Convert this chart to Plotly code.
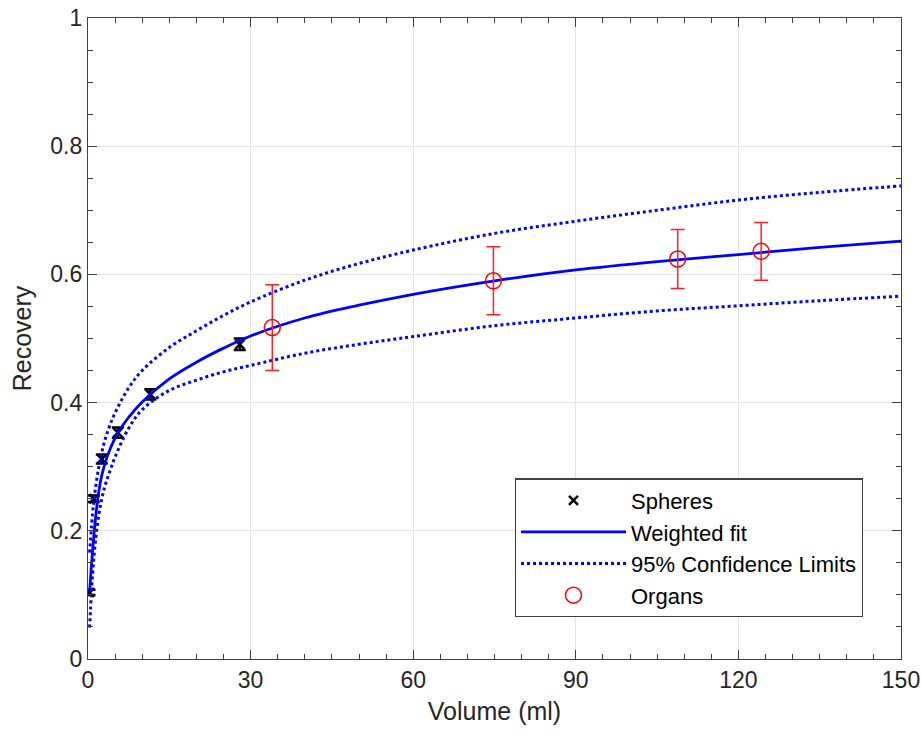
import plotly.graph_objects as go

# ---- data ----
sphere_vol = [0.28, 1.07, 2.55, 5.5, 11.5, 28.0]
sphere_rec = [0.104, 0.250, 0.312, 0.353, 0.413, 0.491]
sphere_err = [0.004, 0.005, 0.007, 0.008, 0.008, 0.009]

organ_vol = [34.0, 74.8, 108.8, 124.2]
organ_rec = [0.517, 0.590, 0.624, 0.636]
organ_err = [0.067, 0.053, 0.046, 0.045]

fit_vol = [0.3, 2.5, 5, 7.5, 10, 15, 20, 25, 30, 40, 50, 60, 75, 90, 105, 120, 135, 150]
fit_rec = [0.105, 0.285, 0.345, 0.377, 0.401, 0.437, 0.463, 0.485, 0.504, 0.532, 0.552, 0.569,
           0.590, 0.607, 0.620, 0.631, 0.642, 0.652]

ci_vol = [0.3, 1, 2, 3, 4, 5, 7.5, 10, 15, 20, 25, 30, 40, 50, 60, 75, 90, 105, 120, 135, 150]
ci_upper = [0.166, 0.240, 0.300, 0.338, 0.364, 0.384, 0.423, 0.450, 0.486, 0.512, 0.536, 0.557,
            0.591, 0.617, 0.638, 0.664, 0.683, 0.700, 0.716, 0.728, 0.738]
ci_lower = [0.049, 0.150, 0.225, 0.266, 0.292, 0.315, 0.360, 0.389, 0.419, 0.435, 0.448, 0.458,
            0.477, 0.491, 0.503, 0.520, 0.532, 0.543, 0.551, 0.559, 0.566]

x_ticks = [0, 30, 60, 90, 120, 150]
y_ticks = [0, 0.2, 0.4, 0.6, 0.8, 1]

AX = "#404040"
TXT = "#262626"
GRID = "#e3e3e3"
FONT = "Liberation Sans, Arial, sans-serif"

fig = go.Figure()

fig.add_trace(go.Scatter(
    x=sphere_vol, y=sphere_rec, mode="markers", name="Spheres",
    marker=dict(symbol="x-thin", size=9, color="black", line=dict(width=2.5, color="black")),
    error_y=dict(type="data", array=sphere_err, visible=True, color="black", thickness=2.5, width=6),
))
fig.add_trace(go.Scatter(
    x=fit_vol, y=fit_rec, mode="lines", name="Weighted fit",
    line=dict(color="#0000ff", width=2.8), line_shape="spline",
))
fig.add_trace(go.Scatter(
    x=ci_vol, y=ci_upper, mode="lines", name="95% Confidence Limits",
    line=dict(color="#0000ff", width=3, dash="dot"), line_shape="spline",
))
fig.add_trace(go.Scatter(
    x=ci_vol, y=ci_lower, mode="lines", name="95% Confidence Limits", showlegend=False,
    line=dict(color="#0000ff", width=3, dash="dot"), line_shape="spline",
))
fig.add_trace(go.Scatter(
    x=organ_vol, y=organ_rec, mode="markers", name="Organs",
    marker=dict(symbol="circle-open", size=16, color="#ff0000", line=dict(width=1.5, color="#ff0000")),
    error_y=dict(type="data", array=organ_err, visible=True, color="#ff2020", thickness=1.5, width=7),
))

axis_common = dict(
    showline=True, linecolor=AX, linewidth=1.2, mirror="ticks",
    ticks="inside", ticklen=9, tickwidth=1.2, tickcolor=AX,
    showgrid=True, gridcolor=GRID, gridwidth=1, zeroline=False,
    ticklabeloverflow="allow",
    tickfont=dict(family=FONT, size=23, color=TXT),
    title_font=dict(family=FONT, size=25, color=TXT),
)

fig.update_xaxes(
    range=[0, 150], tickvals=x_ticks, ticktext=[str(v) for v in x_ticks],
    title_text="Volume (ml)", title_standoff=10,
    minor=dict(dtick=5, ticks="inside", ticklen=5, tickcolor=AX, tickwidth=1.2, showgrid=False),
    **axis_common,
)
fig.update_yaxes(
    range=[0, 1], tickvals=y_ticks, ticktext=["0", "0.2", "0.4", "0.6", "0.8", "1"],
    title_text="Recovery", title_standoff=11,
    minor=dict(dtick=0.05, ticks="inside", ticklen=5, tickcolor=AX, tickwidth=1.2, showgrid=False),
    **axis_common,
)

fig.update_layout(
    width=921, height=738,
    margin=dict(l=88, r=20, t=18, b=79, autoexpand=False),
    paper_bgcolor="white", plot_bgcolor="white",
    font=dict(family=FONT, size=22, color=TXT),
    legend=dict(
        x=0.953, y=0.065, xanchor="right", yanchor="bottom",
        bgcolor="white", bordercolor=AX, borderwidth=1.2,
        font=dict(family=FONT, size=22, color="black"),
        tracegroupgap=0, itemwidth=105,
    ),
)

fig.write_html(
    "out.html",
    config={"displayModeBar": False},
    post_script="document.body.style.margin='0';document.body.style.overflow='hidden';",
)
